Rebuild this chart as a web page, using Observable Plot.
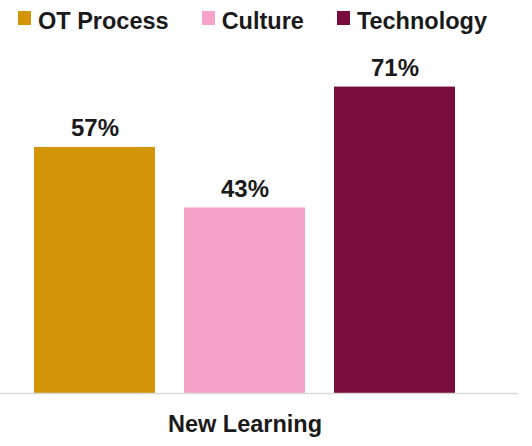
<!DOCTYPE html>
<html><head><meta charset="utf-8">
<script src="https://cdn.jsdelivr.net/npm/d3@7"></script>
<script src="https://cdn.jsdelivr.net/npm/@observablehq/plot@0.6"></script>
<style>
body{margin:0;background:#fff;font-family:"Liberation Sans",Arial,sans-serif;}
#legend{display:flex;height:42px;align-items:center;padding-left:18px;font-weight:bold;font-size:23.5px;color:#1a1a1a;box-sizing:border-box}
.item{display:flex;align-items:center;margin-right:33px}
.sw{width:13px;height:14px;margin-right:7px;position:relative;top:-3px}
</style></head><body>
<div id="legend"></div><div id="chart"></div>
<script>
const group = "New Learning";
const categories = ["OT Process", "Culture", "Technology"];
const values = [57, 43, 71];
const colors = ["#D39508", "#F6A3C9", "#780C3C"];
const data = categories.map((c, i) => ({group, category: c, value: values[i]}));

const legend = document.getElementById("legend");
categories.forEach((c, i) => {
  const it = document.createElement("div"); it.className = "item";
  const sw = document.createElement("span"); sw.className = "sw"; sw.style.background = colors[i];
  const t = document.createElement("span"); t.textContent = c;
  it.append(sw, t); legend.append(it);
});

const font = '"Liberation Sans", Arial, sans-serif';
const chart = Plot.plot({
  width: 532, height: 404,
  marginLeft: 33, marginRight: 76, marginTop: 44.6, marginBottom: 53,
  style: {fontFamily: font, background: "#fff", color: "#1a1a1a"},
  fx: {domain: [group], label: null, paddingInner: 0, paddingOuter: 0},
  x: {domain: categories, axis: null, paddingInner: 0.195, paddingOuter: 0},
  y: {domain: [0, 71], axis: null},
  color: {domain: categories, range: colors},
  marks: [
    Plot.barY(data, {fx: "group", x: "category", y: "value", fill: "category"}),
    Plot.ruleY([0], {stroke: "#d9d9d9", strokeWidth: 1.5, insetLeft: -33, insetRight: -62}),
    Plot.text(data, {fx: "group", x: "category", y: "value", text: d => d.value + "%", dy: -19, fontSize: 24, fontWeight: "bold", fill: "#1a1a1a"}),
    Plot.axisFx({anchor: "bottom", tickSize: 0, tickPadding: 22, fontSize: 23.5, fontWeight: "bold", label: null, fill: "#1a1a1a"})
  ]
});
document.getElementById("chart").append(chart);
</script>
</body></html>
